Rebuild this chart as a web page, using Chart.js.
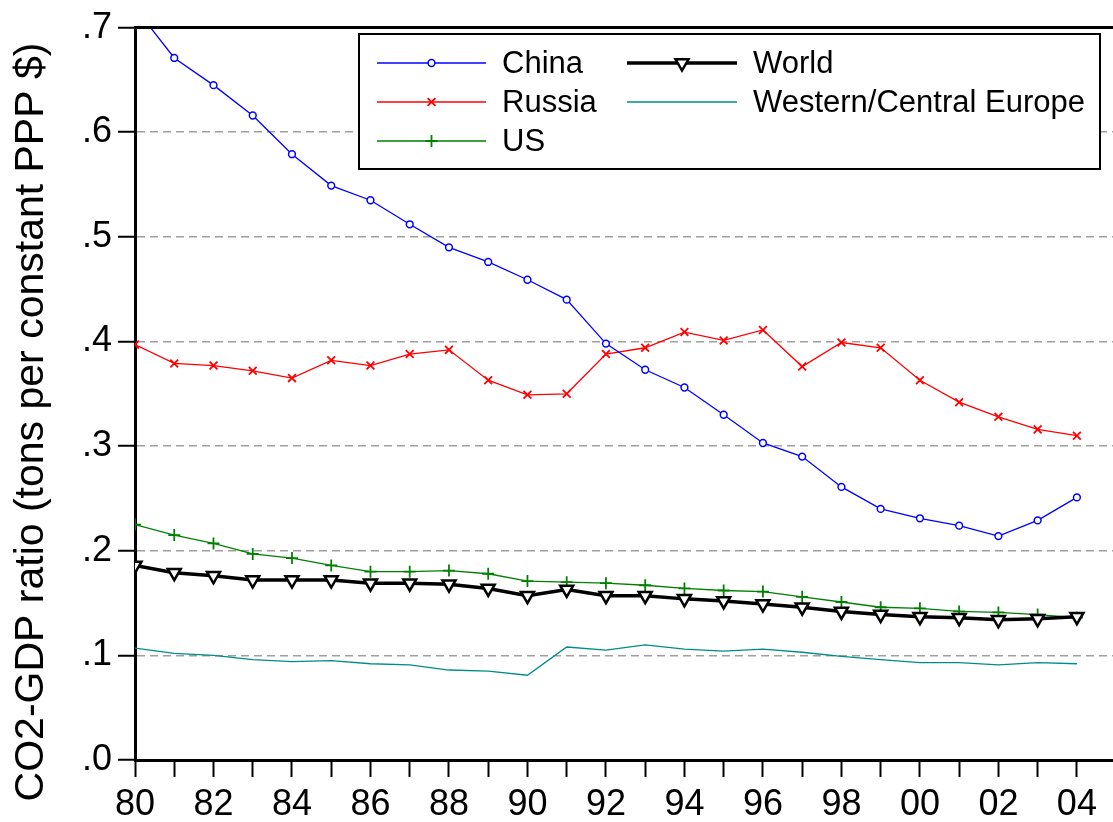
<!DOCTYPE html>
<html>
<head>
<meta charset="utf-8">
<script src="https://cdn.jsdelivr.net/npm/chart.js@4/dist/chart.umd.min.js"></script>
<style>
  html, body { margin: 0; padding: 0; background: #fff; }
  #wrap { width: 1113px; height: 822px; }
</style>
</head>
<body>
<div id="wrap"><canvas id="co2" width="1113" height="822"></canvas></div>
<script>
const years = [1980, 1981, 1982, 1983, 1984, 1985, 1986, 1987, 1988, 1989, 1990, 1991, 1992,
    1993, 1994, 1995, 1996, 1997, 1998, 1999, 2000, 2001, 2002, 2003, 2004];

const china = [0.719, 0.671, 0.645, 0.616, 0.579, 0.549, 0.535, 0.512, 0.490, 0.476, 0.459, 0.440, 0.398,
    0.373, 0.356, 0.330, 0.303, 0.290, 0.261, 0.240, 0.231, 0.224, 0.214, 0.229, 0.251];
const russia = [0.397, 0.379, 0.377, 0.372, 0.365, 0.382, 0.377, 0.388, 0.392, 0.363, 0.349, 0.350, 0.388,
    0.394, 0.409, 0.401, 0.411, 0.376, 0.399, 0.394, 0.363, 0.342, 0.328, 0.316, 0.310];
const us = [0.225, 0.215, 0.207, 0.197, 0.193, 0.186, 0.180, 0.180, 0.181, 0.178, 0.171, 0.170, 0.169,
    0.167, 0.164, 0.162, 0.161, 0.156, 0.151, 0.146, 0.145, 0.142, 0.141, 0.139, 0.136];
const world = [0.186, 0.179, 0.176, 0.172, 0.172, 0.172, 0.169, 0.169, 0.168, 0.164, 0.157, 0.163, 0.157,
    0.157, 0.154, 0.152, 0.149, 0.146, 0.142, 0.139, 0.137, 0.136, 0.134, 0.135, 0.137];
const europe = [0.107, 0.102, 0.100, 0.096, 0.094, 0.095, 0.092, 0.091, 0.086, 0.085, 0.081, 0.108, 0.105,
    0.110, 0.106, 0.104, 0.106, 0.103, 0.099, 0.096, 0.093, 0.093, 0.091, 0.093, 0.092];

const xTickLabels = ["80", "82", "84", "86", "88", "90", "92", "94", "96", "98", "00", "02", "04"];
const yTickLabels = [".0", ".1", ".2", ".3", ".4", ".5", ".6", ".7"];
const yTitle = "CO2-GDP ratio (tons per constant PPP $)";

const FONT = "'Liberation Sans', Arial, Helvetica, sans-serif";

function toPoints(values) {
    return values.map((v, i) => ({ x: years[i], y: v }));
}

// small marker painter for the legend box
function drawMarker(ctx, ds, x, y) {
    const r = ds.pointRadius || 0;
    if (!r) return;
    ctx.save();
    ctx.lineWidth = ds.pointBorderWidth || 1;
    ctx.strokeStyle = ds.pointBorderColor || ds.borderColor;
    ctx.fillStyle = ds.pointBackgroundColor || "#fff";
    ctx.beginPath();
    if (ds.pointStyle === "circle") {
        ctx.arc(x, y, r, 0, Math.PI * 2);
        ctx.fill();
        ctx.stroke();
    } else if (ds.pointStyle === "crossRot") {
        const d = r * Math.SQRT1_2;
        ctx.moveTo(x - d, y - d); ctx.lineTo(x + d, y + d);
        ctx.moveTo(x + d, y - d); ctx.lineTo(x - d, y + d);
        ctx.stroke();
    } else if (ds.pointStyle === "cross") {
        ctx.moveTo(x, y - r); ctx.lineTo(x, y + r);
        ctx.moveTo(x - r, y); ctx.lineTo(x + r, y);
        ctx.stroke();
    } else if (ds.pointStyle === "triangle") {
        // pointing down (rotation 180)
        const w = r * Math.sqrt(3) / 2;
        ctx.moveTo(x - w, y - r / 2);
        ctx.lineTo(x + w, y - r / 2);
        ctx.lineTo(x, y + r);
        ctx.closePath();
        ctx.fill();
        ctx.stroke();
    }
    ctx.restore();
}

const frameAndLegend = {
    id: "frameAndLegend",
    afterDraw(chart) {
        const { ctx, chartArea } = chart;
        ctx.save();

        // y axis title, placed a bit lower than the plot centre like the original
        ctx.save();
        ctx.translate(43, 422);
        ctx.rotate(-Math.PI / 2);
        ctx.font = "41px " + FONT;
        ctx.fillStyle = "#000";
        ctx.textAlign = "center";
        ctx.textBaseline = "alphabetic";
        ctx.fillText(yTitle, 0, 0);
        ctx.restore();

        // top frame line
        ctx.strokeStyle = "#000";
        ctx.lineWidth = 3;
        ctx.beginPath();
        ctx.moveTo(chartArea.left - 1, chartArea.top);
        ctx.lineTo(chartArea.right, chartArea.top);
        ctx.stroke();

        // legend box
        const box = { x: 359, y: 34, w: 741, h: 135 };
        ctx.fillStyle = "#fff";
        ctx.fillRect(box.x, box.y, box.w, box.h);
        ctx.lineWidth = 2;
        ctx.strokeStyle = "#000";
        ctx.strokeRect(box.x, box.y, box.w, box.h);

        const rows = [63, 102, 141];
        const cols = [
            { x1: 377, x2: 486, text: 502, items: [0, 1, 2] },
            { x1: 627, x2: 737, text: 753, items: [3, 4] }
        ];
        ctx.font = "31px " + FONT;
        ctx.textBaseline = "middle";
        ctx.textAlign = "left";
        cols.forEach((col) => {
            col.items.forEach((idx, r) => {
                const ds = chart.data.datasets[idx];
                const y = rows[r];
                ctx.save();
                ctx.strokeStyle = ds.borderColor;
                ctx.lineWidth = ds.borderWidth;
                ctx.beginPath();
                ctx.moveTo(col.x1, y);
                ctx.lineTo(col.x2, y);
                ctx.stroke();
                ctx.restore();
                drawMarker(ctx, ds, (col.x1 + col.x2) / 2, y);
                ctx.fillStyle = "#000";
                ctx.fillText(ds.label, col.text, y + 1);
            });
        });
        ctx.restore();
    }
};

const ctx = document.getElementById("co2");

new Chart(ctx, {
    type: "line",
    data: {
        datasets: [
            {
                label: "China",
                data: toPoints(china),
                borderColor: "#0000ff",
                borderWidth: 1.3,
                pointStyle: "circle",
                pointRadius: 3.4,
                pointBorderWidth: 1.5,
                pointBorderColor: "#0000ff",
                pointBackgroundColor: "#ffffff",
                clip: 0,
                order: 2
            },
            {
                label: "Russia",
                data: toPoints(russia),
                borderColor: "#ff0000",
                borderWidth: 1.3,
                pointStyle: "crossRot",
                pointRadius: 5.5,
                pointBorderWidth: 1.8,
                pointBorderColor: "#ff0000",
                clip: 0,
                order: 3
            },
            {
                label: "US",
                data: toPoints(us),
                borderColor: "#008000",
                borderWidth: 1.3,
                pointStyle: "cross",
                pointRadius: 6,
                pointBorderWidth: 1.8,
                pointBorderColor: "#008000",
                clip: 0,
                order: 4
            },
            {
                label: "World",
                data: toPoints(world),
                borderColor: "#000000",
                borderWidth: 3.5,
                pointStyle: "triangle",
                rotation: 180,
                pointRadius: 7.5,
                pointBorderWidth: 2.5,
                pointBorderColor: "#000000",
                pointBackgroundColor: "#ffffff",
                clip: 0,
                order: 1
            },
            {
                label: "Western/Central Europe",
                data: toPoints(europe),
                borderColor: "#008b8b",
                borderWidth: 1.3,
                pointRadius: 0,
                clip: 0,
                order: 5
            }
        ]
    },
    options: {
        responsive: false,
        animation: false,
        layout: { autoPadding: false, padding: { top: 27, left: 0, right: 0, bottom: 0 } },
        plugins: {
            legend: { display: false },
            tooltip: { enabled: false }
        },
        elements: { line: { tension: 0 } },
        scales: {
            x: {
                type: "linear",
                min: 1980,
                max: 2004.92,
                afterFit: (scale) => { scale.height = 62; },
                border: { display: true, color: "#000", width: 3 },
                grid: {
                    drawOnChartArea: false,
                    drawTicks: true,
                    tickLength: 17,
                    tickColor: "#000",
                    tickWidth: 2
                },
                ticks: {
                    stepSize: 1,
                    includeBounds: false,
                    autoSkip: false,
                    maxRotation: 0,
                    padding: 6,
                    color: "#000",
                    font: { family: FONT, size: 36 },
                    callback: function (v) {
                        const off = v - years[0];
                        return off % 2 === 0 ? xTickLabels[off / 2] : "";
                    }
                }
            },
            y: {
                min: 0,
                max: 0.7,
                afterFit: (scale) => { scale.width = 135; },
                border: { display: true, color: "#000", width: 3, dash: [8, 5] },
                grid: {
                    color: (c) => (c.tick && (c.index === 0 || c.index === 7)) ? "rgba(0,0,0,0)" : "#a0a0a0",
                    lineWidth: 1.5,
                    drawTicks: true,
                    tickLength: 17,
                    tickColor: "#000",
                    tickWidth: 2,
                    tickBorderDash: []
                },
                ticks: {
                    stepSize: 0.1,
                    padding: 6,
                    color: "#000",
                    font: { family: FONT, size: 36 },
                    callback: function (v) { return yTickLabels[Math.round(v * 10)]; }
                },
                title: { display: false }
            }
        }
    },
    plugins: [frameAndLegend]
});
</script>
</body>
</html>
